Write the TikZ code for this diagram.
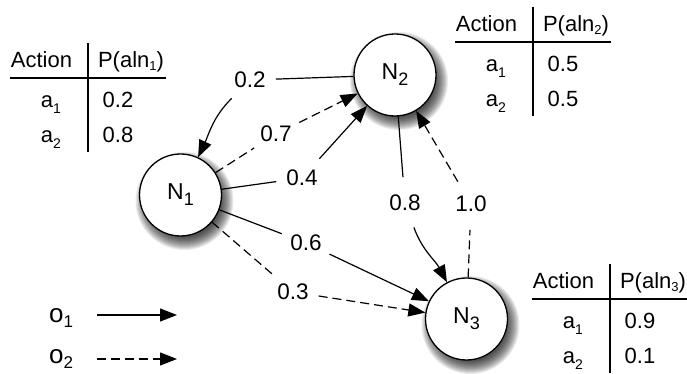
\documentclass[tikz,border=0pt]{standalone}
\usepackage{fontspec}
\setmainfont{Liberation Sans}
\usetikzlibrary{arrows.meta}

% lowered, smaller indices
\newcommand\nsub[1]{\raisebox{-6pt}{\fontsize{18}{18}\selectfont#1}}
\newcommand\tsub[1]{\raisebox{-6pt}{\fontsize{14}{14}\selectfont#1}}
\newcommand\osub[1]{\raisebox{-5pt}{\fontsize{17}{17}\selectfont#1}}
\newcommand\psub[1]{\raisebox{-3pt}{\fontsize{13}{13}\selectfont#1}}

% action table: x of the vertical rule, baseline of the header, index, two probabilities
\newcommand\probtable[5]{%
  \begin{scope}[shift={(#1,#2)}]
    \node[txt, anchor=base] (t#3h1) at (-46.5,0) {Action};
    \node[txt, anchor=base] (t#3h2) at (43,0) {P(aln\psub{#3})};
    \node[txt, anchor=base] (t#3a1) at (-37,-40) {a\tsub{1}};
    \node[txt, anchor=base] (t#3a2) at (-37,-75) {a\tsub{2}};
    \node[txt, anchor=base] (t#3p1) at (30,-40) {#4};
    \node[txt, anchor=base] (t#3p2) at (30,-75) {#5};
    \draw[rule] (-78,-10) -- (78,-10);
    \draw[rule] (0,25) -- (0,-84);
  \end{scope}}

\begin{document}
\begin{tikzpicture}[x=1pt,y=1pt,
  txt/.style={font=\fontsize{22}{26}\selectfont, inner sep=0pt},
  state/.style={circle, draw, line width=1.3pt, fill=white, minimum size=82pt,
    inner sep=0pt, font=\fontsize{23}{26}\selectfont},
  prob/.style={circle, inner sep=6pt, font=\fontsize{22.5}{26}\selectfont},
  link/.style={line width=1.2pt},
  arr/.style={-{Triangle[length=17pt,width=13pt]}},
  dashedlink/.style={dash pattern=on 9pt off 5pt},
  rule/.style={line width=1.2pt}
]
\useasboundingbox (0,0) rectangle (687,374);

% state centres
\coordinate (c1) at (180.5,179);
\coordinate (c2) at (395,299);
\coordinate (c3) at (466.5,55);

% soft drop shadows, falling to the lower right
\foreach \c in {c1,c2,c3}{
  \foreach \r in {36,...,49}
    \fill[black, opacity=0.08] ([shift={(4,-6)}]\c) circle (\r);
}

% states
\node[state] (N1) at (c1) {N\nsub{1}};
\node[state] (N2) at (c2) {N\nsub{2}};
\node[state] (N3) at (c3) {N\nsub{3}};

% transition probabilities
\node[prob] (l02) at (250,294) {0.2};
\node[prob] (l07) at (276,240) {0.7};
\node[prob] (l04) at (302,196) {0.4};
\node[prob] (l06) at (306,131) {0.6};
\node[prob] (l03) at (293,82)  {0.3};
\node[prob] (l08) at (405,171) {0.8};
\node[prob] (l10) at (471,170) {1.0};

% o1 transitions (solid)
\draw[link] (N2) -- (l02);
\draw[link, arr] (l02) to[out=-135, in=65] (N1);
\draw[link] (N1) -- (l04);
\draw[link, arr] (l04) -- (N2);
\draw[link] (N1) -- (l06);
\draw[link, arr] (l06) -- (N3);
\draw[link] (N2) -- (l08);
\draw[link, arr] (l08) to[out=-70, in=118] (N3);

% o2 transitions (dashed)
\draw[link, dashedlink] (N1) -- (l07);
\draw[link, dashedlink, arr] (l07) -- (N2);
\draw[link, dashedlink] (N1) -- (l03);
\draw[link, dashedlink, arr] (l03) -- (N3);
\draw[link, dashedlink] (N3) -- (l10);
\draw[link, dashedlink, arr] (l10) -- (N2);

% action tables
\probtable{88}{306}{1}{0.2}{0.8}
\probtable{533}{342}{2}{0.5}{0.5}
\probtable{610}{85}{3}{0.9}{0.1}

% legend
\node[txt, anchor=base west, font=\fontsize{26}{28}\selectfont] (o1) at (49,51) {o\osub{1}};
\node[txt, anchor=base west, font=\fontsize{26}{28}\selectfont] (o2) at (49,10) {o\osub{2}};
\coordinate (s1) at (97,59);
\coordinate (e1) at (177,59);
\coordinate (s2) at (97,15);
\coordinate (e2) at (177,15);
\draw[link, arr] (s1) -- (e1);
\draw[link, dashedlink, arr] (s2) -- (e2);
\end{tikzpicture}
\end{document}
